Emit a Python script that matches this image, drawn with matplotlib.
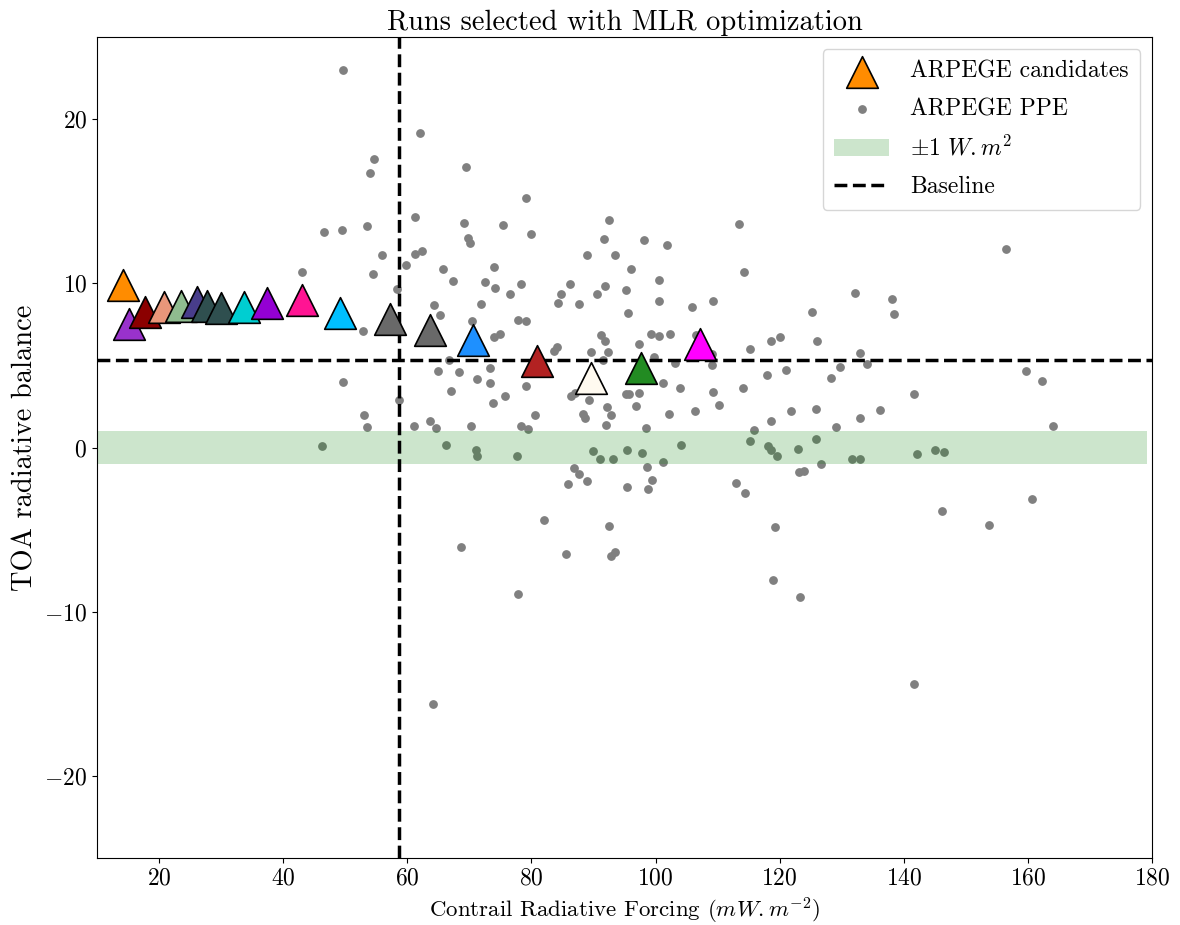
import matplotlib
matplotlib.use("Agg")
import matplotlib.pyplot as plt

plt.rcParams["font.family"] = "serif"
plt.rcParams["font.serif"] = ["cmr10"]
plt.rcParams["mathtext.fontset"] = "cm"
plt.rcParams["axes.formatter.use_mathtext"] = True

# ==============================
# DATA
# ==============================
# PPE members (contrail RF, TOA balance)
ppe_x = [49.6, 62.1, 54.6, 54.0, 69.5, 79.2, 61.3, 46.5, 49.5, 53.5,
         69.2, 75.4, 69.7, 70.1, 80.0, 56.0, 61.3, 62.3, 59.8, 65.8,
         73.9, 43.1, 54.4, 67.4, 72.6, 74.2, 78.4, 76.6, 86.2, 84.7,
         84.3, 87.6, 58.4, 64.3, 71.8, 65.3, 77.9, 79.2, 70.5, 52.8,
         92.5, 113.5, 91.7, 98.2, 101.9, 89.0, 93.45, 96.1, 100.6, 114.3,
         91.8, 90.6, 95.3, 100.5, 105.8, 109.2, 95.6, 125.2, 132.2, 156.4,
         138.1, 138.4, 159.7, 162.3, 141.6, 136.1, 164.1, 142.1, 145.0, 146.4,
         160.6, 146.1, 153.8, 141.7, 77.8, 64.2, 119.0, 123.2, 49.7, 58.7,
         53.1, 53.5, 46.2, 61.05, 63.7, 64.7, 70.3, 66.2, 71.1, 71.2,
         77.7, 78.4, 79.45, 80.6, 79.2, 86.3, 65.0, 68.3, 67.05, 71.3,
         73.3, 73.3, 75.8, 73.8, 66.7, 74.0, 74.9, 83.6, 84.1, 86.85,
         87.6, 85.9, 82.0, 68.6, 85.6, 91.15, 91.8, 92.3, 99.2, 100.6,
         102.4, 97.3, 89.6, 87.1, 89.2, 92.1, 92.9, 88.3, 95.2, 95.7,
         97.4, 96.8, 101.2, 104.0, 102.1, 106.3, 110.25, 109.3, 103.2, 109.1,
         109.1, 106.5, 91.5, 99.7, 115.2, 118.6, 120.1, 126.0, 121.0, 118.0,
         128.3, 129.7, 133.0, 134.0, 114.05, 88.6, 92.0, 98.4, 121.9, 125.8,
         118.6, 115.8, 129.0, 133.0, 89.9, 91.05, 93.1, 95.4, 97.8, 98.7,
         101.2, 104.1, 115.3, 118.2, 118.6, 119.6, 123.0, 125.9, 126.6, 131.7,
         133.0, 123.1, 124.0, 88.9, 95.4, 99.4, 98.8, 112.9, 114.4, 92.5,
         93.45, 92.8, 119.3]
ppe_y = [23.0, 19.15, 17.6, 16.7, 17.1, 15.2, 14.06, 13.13, 13.25, 13.5,
         13.66, 13.57, 12.77, 12.46, 13.03, 11.75, 11.81, 11.96, 11.14, 10.9,
         11.0, 10.66, 10.56, 10.15, 10.05, 9.73, 9.95, 9.36, 9.97, 9.36,
         8.83, 8.75, 9.65, 8.69, 8.73, 8.04, 7.78, 7.68, 7.68, 7.09,
         13.86, 13.64, 12.7, 12.66, 12.34, 11.75, 11.71, 10.86, 10.23, 10.7,
         9.83, 9.36, 9.6, 8.92, 8.57, 8.92, 8.19, 8.27, 9.38, 12.08,
         9.06, 8.15, 4.66, 4.05, 3.26, 2.31, 1.32, -0.38, -0.18, -0.26,
         -3.12, -3.85, -4.72, -14.39, -8.94, -15.6, -8.04, -9.08, 4.01, 2.92,
         1.95, 1.22, 0.08, 1.34, 1.6, 1.16, 1.34, 0.18, -0.18, -0.5,
         -0.5, 1.32, 1.11, 1.96, 3.73, 3.14, 4.68, 4.62, 3.42, 4.19,
         4.86, 3.91, 3.14, 2.72, 5.31, 6.75, 6.91, 5.88, 6.12, -1.26,
         -1.62, -2.25, -4.44, -6.08, -6.48, 6.87, 6.49, 5.84, 6.93, 6.77,
         6.91, 6.32, 5.82, 3.33, 2.9, 2.49, 2.0, 2.07, 3.24, 3.24,
         3.3, 2.51, 3.91, 3.65, 2.07, 2.2, 2.61, 3.38, 5.15, 5.71,
         5.05, 6.83, 5.31, 5.49, 5.98, 6.46, 6.75, 6.5, 4.74, 4.44,
         4.21, 4.88, 5.78, 5.09, 3.63, 1.8, 1.36, 1.16, 2.25, 2.37,
         1.6, 1.07, 1.23, 1.78, -0.2, -0.67, -0.71, -0.14, -0.32, -1.2,
         -0.89, 0.14, 0.41, 0.1, -0.18, -0.53, -0.1, 0.5, -1.02, -0.67,
         -0.71, -1.52, -1.44, -2.05, -2.43, -2.0, -2.55, -2.17, -2.74, -4.78,
         -6.34, -6.6, -4.82]

# selected candidates
cand_x = [14.15, 15.23, 17.8, 20.86, 23.5, 26.1, 27.7, 30.0, 33.7, 37.4,
          43.0, 49.1, 57.2, 63.6, 70.65, 80.9, 89.65, 97.6, 107.2]
cand_y = [9.87, 7.52, 8.27, 8.57, 8.59, 8.84, 8.63, 8.5, 8.58, 8.80,
          9.0, 8.17, 7.81, 7.17, 6.52, 5.25, 4.22, 4.87, 6.28]
cand_colors = ["darkorange", "darkorchid", "darkred", "darksalmon", "darkseagreen",
               "darkslateblue", "darkslategray", "darkslategrey", "darkturquoise",
               "darkviolet", "deeppink", "deepskyblue", "dimgray", "dimgrey",
               "dodgerblue", "firebrick", "floralwhite", "forestgreen", "fuchsia"]

baseline_rf = 58.6
baseline_toa = 5.3
band_x = [10, 179.2]

# ==============================
# PLOT
# ==============================
fig = plt.figure(figsize=(11.8, 9.25), dpi=100)
ax = fig.add_axes([0.0822, 0.0724, 0.8941, 0.8876])

ax.scatter(ppe_x, ppe_y, s=28, color="grey", zorder=2, label="ARPEGE PPE")
ax.fill_between(band_x, -1, 1, color="green", alpha=0.2, linewidth=0,
                zorder=2, label=r"$\pm 1\ W{.}m^2$")
ax.axhline(baseline_toa, color="black", linestyle="--", linewidth=2.5,
           zorder=3, label="Baseline")
ax.axvline(baseline_rf, color="black", linestyle="--", linewidth=2.5, zorder=3)

for i in range(len(cand_x)):
    ax.scatter(cand_x[i], cand_y[i], s=520, marker="^", color=cand_colors[i],
               edgecolors="black", linewidths=1.2, zorder=4,
               label="ARPEGE candidates" if i == 0 else None)

ax.set_xlim(10, 180)
ax.set_ylim(-25, 25)
ax.set_xticks([20, 40, 60, 80, 100, 120, 140, 160, 180])
ax.set_yticks([-20, -10, 0, 10, 20])
ax.tick_params(labelsize=17)

ax.set_title("Runs selected with MLR optimization", fontsize=20.5, pad=5)
ax.set_xlabel(r"Contrail Radiative Forcing ($mW{.}m^{-2}$)", fontsize=16.5)
ax.set_ylabel("TOA radiative balance", fontsize=20.5)

handles, labels = ax.get_legend_handles_labels()
order = [labels.index(l) for l in ["ARPEGE candidates", "ARPEGE PPE",
                                   r"$\pm 1\ W{.}m^2$", "Baseline"]]
ax.legend([handles[k] for k in order], [labels[k] for k in order],
          loc="upper right", fontsize=17, handlelength=2.3,
          handletextpad=0.9, labelspacing=0.65, borderpad=0.5)

fig.savefig("out.png", dpi=100)
